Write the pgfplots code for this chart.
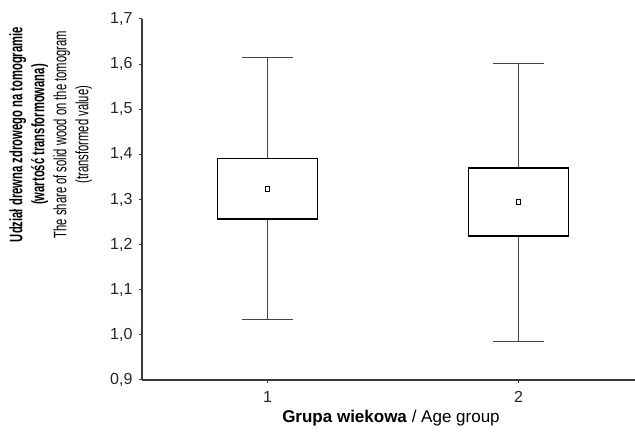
\documentclass[border=0pt]{standalone}
\usepackage{pgfplots}
\pgfplotsset{compat=1.18}
\usepgfplotslibrary{statistics}
\usepackage{fontspec}
\setmainfont{Liberation Sans}
\usepackage{graphicx}

\definecolor{axgray}{HTML}{3A3A3A}
\definecolor{whgray}{HTML}{444444}

\begin{document}
\begin{tikzpicture}
\useasboundingbox (-142pt,-59pt) rectangle (493pt,380pt);
\begin{axis}[
    scale only axis,
    width=493pt, height=361pt,
    xmin=0.5, xmax=2.464,
    ymin=0.9, ymax=1.7,
    axis lines*=left,
    axis line style={axgray, line width=1.3pt},
    tick align=outside,
    major tick length=3pt,
    tick style={axgray, line width=1pt},
    xtick={1,2},
    ytick={0.9,1.0,1.1,1.2,1.3,1.4,1.5,1.6,1.7},
    ticklabel style={font=\fontsize{16}{19}\selectfont, text=black!85},
    /pgf/number format/assume math mode=true,
    yticklabel style={xshift=-3pt, /pgf/number format/.cd, fixed, fixed zerofill, precision=1, use comma},
    xticklabel style={yshift=-5pt},
    xlabel={\textbf{Grupa wiekowa} / Age group},
    xlabel style={font=\fontsize{17}{20}\selectfont, at={(axis description cs:0.505,0)}, anchor=center, yshift=-38pt},
    ylabel={\scalebox{0.625}[1]{\begin{tabular}{@{}c@{}}\textbf{Udział drewna zdrowego na tomogramie}\\ \textbf{(wartość transformowana)}\\ The share of solid wood on the tomogram\\ (transformed value)\end{tabular}}},
    ylabel style={font=\fontsize{18}{22}\selectfont, at={(axis description cs:0,0.68)}, anchor=center, yshift=91pt},
    boxplot/draw direction=y,
    boxplot/box extend=0.4,
    boxplot/whisker extend=0.2,
    boxplot/every median/.style={draw=none},
    boxplot/every box/.style={draw=black, line width=1.5pt},
    boxplot/every whisker/.style={draw=whgray, line width=1.3pt},
    clip=false,
]
\addplot[boxplot prepared={draw position=1,
    lower whisker=1.034, lower quartile=1.257, median=1.323,
    upper quartile=1.391, upper whisker=1.614}] coordinates {};
\addplot[boxplot prepared={draw position=2,
    lower whisker=0.986, lower quartile=1.219, median=1.294,
    upper quartile=1.370, upper whisker=1.602}] coordinates {};
\addplot[only marks, mark=square, mark size=2.4pt, mark options={draw=black, line width=0.9pt}]
    coordinates {(1,1.323) (2,1.294)};
\end{axis}
\end{tikzpicture}
\end{document}
